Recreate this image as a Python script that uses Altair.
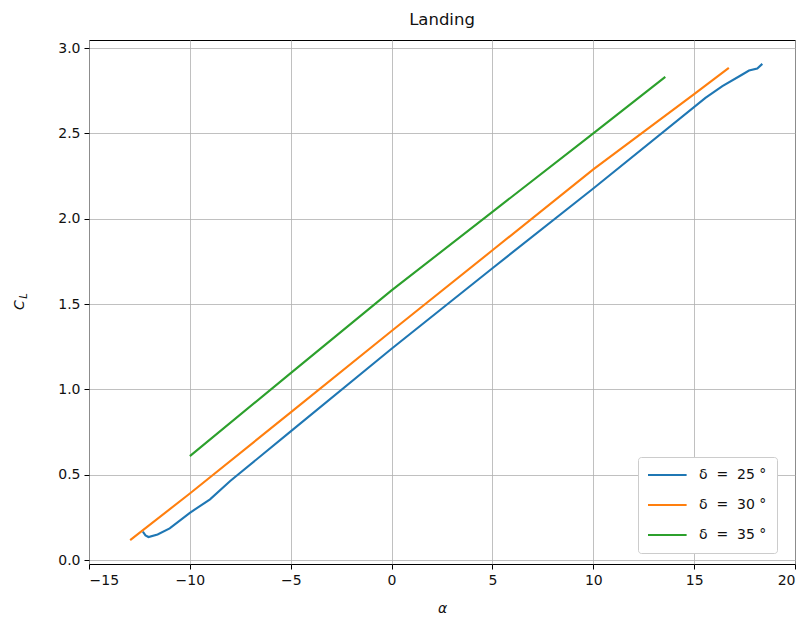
import altair as alt
import pandas as pd

NB = "\u00a0"
series = [f"δ{NB}{NB}={NB}{NB}25{NB}°", f"δ{NB}{NB}={NB}{NB}30{NB}°", f"δ{NB}{NB}={NB}{NB}35{NB}°"]
colors = ["#1f77b4", "#ff7f0e", "#2ca02c"]

alpha_25 = [-12.33, -12.2, -12.05, -11.6, -11.0, -10.0, -9.0, -8.0, -5.0, 0.0, 5.0, 10.0, 15.56, 16.4, 17.39, 17.72, 18.13, 18.38]
cl_25 = [0.166, 0.145, 0.135, 0.15, 0.186, 0.277, 0.356, 0.463, 0.754, 1.238, 1.71, 2.177, 2.708, 2.777, 2.845, 2.868, 2.88, 2.907]

alpha_30 = [-12.96, -10.0, -5.0, 0.0, 5.0, 10.0, 15.0, 16.72]
cl_30 = [0.117, 0.39, 0.865, 1.342, 1.815, 2.289, 2.73, 2.884]

alpha_35 = [-10.0, -5.0, 0.0, 5.0, 10.0, 13.57]
cl_35 = [0.609, 1.095, 1.58, 2.04, 2.50, 2.831]

x_ticks = [-15, -10, -5, 0, 5, 10, 15, 20]
y_ticks = [0.0, 0.5, 1.0, 1.5, 2.0, 2.5, 3.0]

rows = []
for name, a_list, c_list in zip(series, [alpha_25, alpha_30, alpha_35], [cl_25, cl_30, cl_35]):
    for i, (a, c) in enumerate(zip(a_list, c_list)):
        rows.append({"series": name, "alpha": a, "CL": c, "order": i})
df = pd.DataFrame(rows)

FONT = "DejaVu Sans"
TXT = "#111111"

lines = alt.Chart(df).mark_line(strokeWidth=2.1).encode(
    x=alt.X("alpha:Q",
            scale=alt.Scale(domain=[-15, 20], nice=False, zero=False),
            axis=alt.Axis(values=x_ticks, title="α", titleFontStyle="italic",
                          titleFontWeight="normal", titleFontSize=14, titlePadding=14)),
    y=alt.Y("CL:Q",
            scale=alt.Scale(domain=[-0.023, 3.047], nice=False, zero=False),
            axis=alt.Axis(values=y_ticks, format=".1f", title=None)),
    color=alt.Color("series:N",
                    scale=alt.Scale(domain=series, range=colors),
                    legend=alt.Legend(orient="none", legendX=549, legendY=417, title=None,
                                      symbolType="stroke", symbolStrokeWidth=2.1,
                                      symbolSize=1700, symbolOffset=-4,
                                      clipHeight=16,
                                      labelFont=FONT, labelFontSize=14,
                                      labelColor=TXT,
                                      fillColor="white", strokeColor="#cccccc",
                                      cornerRadius=3, padding=10, rowPadding=14,
                                      labelOffset=11)),
    order="order:Q",
)

ylab_c = alt.Chart(pd.DataFrame({"t": ["C"]})).mark_text(
    font=FONT, fontSize=14, fontStyle="italic", angle=270, align="center", baseline="middle", color=TXT
).encode(text="t:N", x=alt.value(-69), y=alt.value(265))

ylab_l = alt.Chart(pd.DataFrame({"t": ["L"]})).mark_text(
    font=FONT, fontSize=10, fontStyle="italic", angle=270, align="center", baseline="middle", color=TXT
).encode(text="t:N", x=alt.value(-65), y=alt.value(256))

chart = alt.layer(lines, ylab_c, ylab_l).properties(
    width=706,
    height=524,
    title=alt.Title("Landing", fontSize=16.5, fontWeight="normal", font=FONT, color=TXT, offset=12),
    autosize=alt.AutoSizeParams(type="none"),
    padding={"left": 81, "top": 32, "right": 4, "bottom": 54},
).configure_view(
    stroke="black", strokeWidth=1
).configure_axis(
    labelFont=FONT, labelFontSize=14, labelColor=TXT,
    titleFont=FONT, titleColor=TXT,
    grid=True, gridColor="#b0b0b0", gridWidth=0.8,
    domain=False, tickColor="black", tickWidth=1, tickSize=5, labelPadding=4,
)

chart.save("out.html", embed_options={"renderer": "svg", "actions": False})
